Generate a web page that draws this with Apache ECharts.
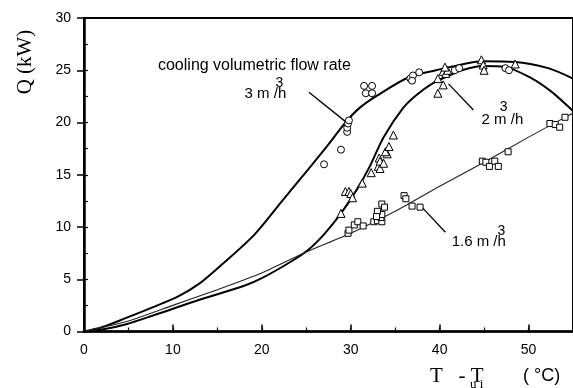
<!DOCTYPE html>
<html>
<head>
<meta charset="utf-8">
<script src="https://cdn.jsdelivr.net/npm/echarts@6.0.0/dist/echarts.min.js"></script>
<style>
  html, body { margin: 0; padding: 0; background: #fff; }
  #chart { width: 573px; height: 388px; }
</style>
</head>
<body>
<div id="chart"></div>
<script>
// fitted curves, [T - Tui, Q]
const curve3 = [[0,0],[2,0.4],[4.75,1.3],[8,2.4],[10.7,3.4],[13,4.6],[15.5,6.4],[19.2,9.3],[22.2,12.4],[25.2,15.5],[27.5,17.9],[29.3,19.9],[31,21.4],[33,22.6],[36.7,24.4],[39.6,25.0],[41.1,25.3],[44.8,25.85],[48.5,25.8],[52.2,25.2],[55,24.2]];
const curve2 = [[0,0],[2,0.2],[4.75,0.7],[8,1.6],[12.5,2.9],[18.1,4.4],[20,5.1],[23.3,6.7],[25.2,7.8],[27,9.3],[28.9,11.3],[30.7,13.6],[32.2,15.9],[33.7,18.6],[35.9,21.4],[37.5,22.7],[39.3,23.8],[41.1,24.5],[42.5,25.0],[44.8,25.4],[47.4,25.3],[50.4,24.2],[52.5,23.0],[54.5,21.5],[55,21.1]];
const line16 = [[0,0],[5,1.0],[10,2.5],[15,4.0],[20,5.6],[25,7.6],[30,9.4],[35,11.5],[40,13.9],[45,16.2],[50,18.6],[55,20.9]];

// measured points
const circles = [[27.0,16.0],[28.9,17.4],[29.6,19.1],[29.6,19.5],[29.7,19.9],[29.8,20.2],[31.5,23.5],[32.4,23.5],[31.7,22.8],[32.4,22.8],[36.7,24.2],[37.0,24.5],[37.7,24.8],[36.9,24.0],[41.7,25.0],[42.2,25.2],[47.4,25.2],[47.8,25.0]];
const triangles = [[28.9,11.3],[29.4,13.4],[29.8,13.4],[30.0,13.2],[30.2,12.8],[31.3,14.2],[32.3,15.2],[33.1,15.8],[33.3,15.6],[33.2,16.6],[33.3,16.3],[33.7,16.1],[34.1,17.0],[33.9,17.2],[34.3,17.7],[34.8,18.8],[39.8,22.8],[40.4,23.6],[39.8,24.2],[40.4,24.9],[40.7,24.7],[40.9,25.0],[40.6,25.3],[44.7,26.0],[44.9,25.5],[45.0,25.0],[48.5,25.6]];
const squares = [[29.7,9.4],[29.8,9.7],[30.4,10.2],[30.8,10.5],[31.4,10.1],[32.6,10.5],[33.0,10.6],[33.5,10.5],[33.4,10.9],[33.5,11.2],[33.0,11.5],[32.9,11.0],[33.5,12.2],[33.8,11.9],[36.0,13.0],[36.2,12.7],[36.9,12.0],[37.8,11.9],[44.8,16.3],[45.2,16.2],[45.6,15.8],[46.2,16.3],[46.6,15.8],[47.7,17.2],[52.4,19.9],[53.0,19.8],[53.5,19.55],[54.1,20.5]];

// annotation leader lines and labels (data coords)
const leader3 = [[25.3,22.9],[29.45,20.06]];
const leader2 = [[41.0,23.7],[43.8,21.2]];
const leader16 = [[38.0,11.9],[40.65,9.5]];
const labels = [
  { text: "cooling volumetric flow rate", at: [8.32,25.48], size: 16 },
  { text: "3 m /h", at: [18.06,22.77], sup: [21.98,23.73], size: 15 },
  { text: "2 m /h", at: [44.72,20.3], sup: [47.2,21.46], size: 15 },
  { text: "1.6 m /h", at: [41.35,8.58], sup: [46.95,9.6], size: 15 },
];

const chart = echarts.init(document.getElementById("chart"));
const sans = "Liberation Sans, Arial, sans-serif";
const serif = "Liberation Serif, Times New Roman, serif";

const leaderSeries = (data) => ({
  type: "line", data: data, showSymbol: false, silent: true,
  lineStyle: { color: "#000", width: 1.3 }, z: 4,
});
const pointSeries = (data, symbol, size) => ({
  type: "scatter", data: data, symbol: symbol, symbolSize: size,
  itemStyle: { color: "#fff", borderColor: "#000", borderWidth: 1, opacity: 1 },
  z: 5,
});

chart.setOption({
  animation: false,
  backgroundColor: "#fff",
  grid: {
    left: 84, right: -2, top: 18, bottom: 56.5,
    show: true, borderColor: "#000", borderWidth: 2, backgroundColor: "transparent",
  },
  xAxis: [
    {
      type: "value", min: 0, max: 55, interval: 10, position: "bottom",
      axisLine: { lineStyle: { color: "#000", width: 2.5 } },
      axisTick: { inside: true, length: 7, lineStyle: { color: "#000", width: 1.5 } },
      axisLabel: { color: "#000", fontSize: 14, fontFamily: sans, margin: 12, showMaxLabel: false },
      splitLine: { show: false },
    },
    {
      type: "value", min: 0, max: 55, interval: 5, position: "bottom",
      axisLine: { show: false },
      axisTick: { inside: true, length: 4, lineStyle: { color: "#000", width: 1.2 } },
      axisLabel: { show: false },
      splitLine: { show: false },
    },
  ],
  yAxis: [
    {
      type: "value", min: 0, max: 30, interval: 5, position: "left",
      axisLine: { lineStyle: { color: "#000", width: 2.5 } },
      axisTick: { inside: false, length: 7, lineStyle: { color: "#000", width: 1.5 } },
      axisLabel: { color: "#000", fontSize: 14, fontFamily: sans, margin: 13 },
      splitLine: { show: false },
    },
    {
      type: "value", min: 0, max: 30, interval: 2.5, position: "left",
      axisLine: { show: false },
      axisTick: { inside: true, length: 4, lineStyle: { color: "#000", width: 1.2 } },
      axisLabel: { show: false },
      splitLine: { show: false },
    },
  ],
  series: [
    { type: "line", data: curve3, smooth: 0.3, showSymbol: false, lineStyle: { color: "#000", width: 2 }, z: 3 },
    { type: "line", data: curve2, smooth: 0.3, showSymbol: false, lineStyle: { color: "#000", width: 2 }, z: 3 },
    { type: "line", data: line16, smooth: 0.2, showSymbol: false, lineStyle: { color: "#222", width: 1.1 }, z: 3 },
    leaderSeries(leader3),
    leaderSeries(leader2),
    leaderSeries(leader16),
    pointSeries(circles, "circle", 7),
    pointSeries(triangles, "triangle", 8),
    pointSeries(squares, "rect", 6),
  ],
});

// annotation texts placed through the axis scales
const graphics = [];
labels.forEach((l) => {
  const p = chart.convertToPixel({ gridIndex: 0 }, l.at);
  graphics.push({
    type: "text", x: p[0], y: p[1], z: 10,
    style: { text: l.text, fill: "#000", font: l.size + "px " + sans, textAlign: "left", textVerticalAlign: "middle" },
  });
  if (l.sup) {
    const s = chart.convertToPixel({ gridIndex: 0 }, l.sup);
    graphics.push({
      type: "text", x: s[0], y: s[1], z: 10,
      style: { text: "3", fill: "#000", font: "14px " + sans, textAlign: "center", textVerticalAlign: "middle" },
    });
  }
});

// axis titles
graphics.push({
  type: "text", x: 25, y: 62, rotation: Math.PI / 2, z: 10,
  style: { text: "Q (kW)", fill: "#000", font: "21px " + serif, textAlign: "center", textVerticalAlign: "middle" },
});
graphics.push({
  type: "text", x: 430, y: 376, z: 10,
  style: { text: "T   - T", fill: "#000", font: "21px " + serif, textAlign: "left", textVerticalAlign: "middle" },
});
graphics.push({
  type: "text", x: 470, y: 385, z: 10,
  style: { text: "u i", fill: "#000", font: "13px " + serif, textAlign: "left", textVerticalAlign: "middle" },
});
graphics.push({
  type: "text", x: 523, y: 376, z: 10,
  style: { text: "( °C)", fill: "#000", font: "18px " + sans, textAlign: "left", textVerticalAlign: "middle" },
});

chart.setOption({ graphic: graphics });
</script>
</body>
</html>
